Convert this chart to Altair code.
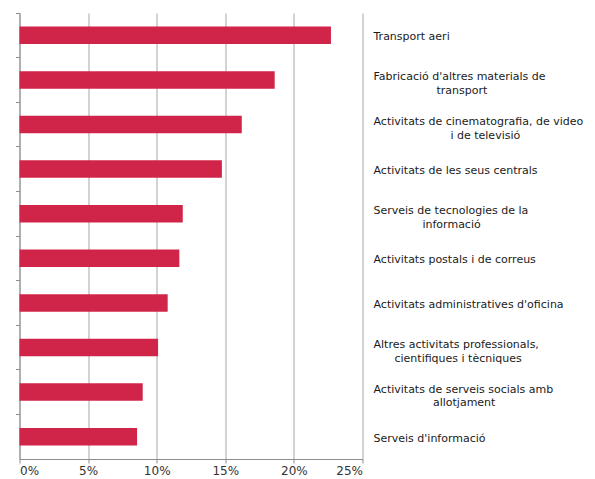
import altair as alt
import pandas as pd

# Category labels: first line, optional second line
line1 = [
    "Transport aeri",
    "Fabricació d'altres materials de",
    "Activitats de cinematografia, de video",
    "Activitats de les seus centrals",
    "Serveis de tecnologies de la",
    "Activitats postals i de correus",
    "Activitats administratives d'oficina",
    "Altres activitats professionals,",
    "Activitats de serveis socials amb",
    "Serveis d'informació",
]
line2 = [
    "",
    "transport",
    "i de televisió",
    "",
    "informació",
    "",
    "",
    "cientifiques i tècniques",
    "allotjament",
    "",
]
# non-breaking-space indent so the second line sits centred under the first
line2_indent = [0, 18, 22, 0, 14, 0, 0, 6, 17, 0]

values = [22.7, 18.6, 16.2, 14.75, 11.9, 11.65, 10.8, 10.1, 8.98, 8.57]

labels = []
for a, b, n in zip(line1, line2, line2_indent):
    labels.append(a if not b else a + "|" + "\u200b" + "\u00a0" * n + b)

df = pd.DataFrame({"cat": labels, "value": [v / 100 for v in values]})

y_scale = alt.Scale(paddingInner=0, paddingOuter=0)
x_scale = alt.Scale(domain=[0, 0.25], nice=False)
x_axis = alt.Axis(format="%", values=[0, 0.05, 0.1, 0.15, 0.2, 0.25],
                  title=None, grid=True, gridColor="#a6a6a6",
                  gridWidth=1, domainColor="#8c8c8c", tickColor="#8c8c8c",
                  tickSize=4, labelFont="DejaVu Sans", labelFontSize=12,
                  labelColor="#333333", labelPadding=2.5)

bars = alt.Chart(df).mark_bar(size=17.5, color="#d02449").encode(
    x=alt.X("value:Q", scale=x_scale, axis=x_axis),
    y=alt.Y("cat:N", sort=labels, scale=y_scale,
            axis=alt.Axis(orient="left", labels=False, title=None,
                          bandPosition=0, tickSize=4, tickColor="#8c8c8c",
                          domainColor="#8c8c8c")),
)

label_layer = alt.Chart(df).mark_bar(opacity=0).encode(
    x=alt.X("value:Q", scale=x_scale, axis=x_axis),
    y=alt.Y("cat:N", sort=labels, scale=y_scale,
            axis=alt.Axis(orient="right", title=None, ticks=False, domain=False,
                          labelExpr="split(datum.label, '|')",
                          labelFont="DejaVu Sans", labelFontSize=11,
                          labelColor="#1a1a1a", labelPadding=10.5,
                          labelLineHeight=13.5, labelLimit=400,
                          labelAlign="left", labelBaseline="middle",
                          labelOffset={"condition": {"test": "indexof(datum.value, '|') >= 0",
                                                     "value": -2.5},
                                       "value": 2})),
)

chart = alt.layer(bars, label_layer).resolve_axis(y="independent").properties(
    width=343, height=446,
    autosize=alt.AutoSizeParams(type="none"),
    padding={"left": 11.5, "top": 5, "right": 224, "bottom": 20},
).configure_view(stroke=None)

chart.save("out.html", embed_options={"renderer": "svg", "actions": False})
